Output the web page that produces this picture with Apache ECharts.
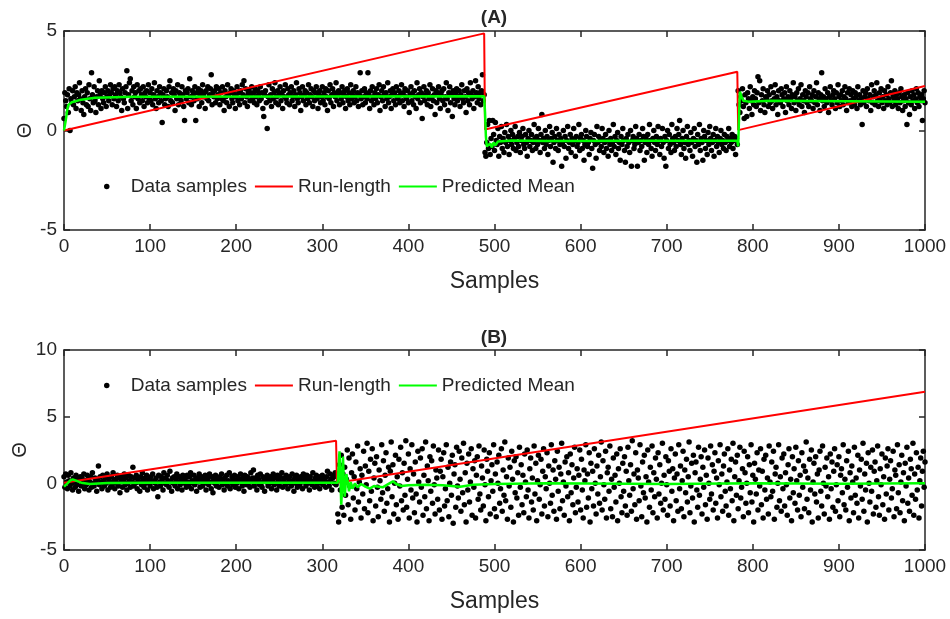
<!DOCTYPE html>
<html><head><meta charset="utf-8">
<script src="https://cdn.jsdelivr.net/npm/echarts@6/dist/echarts.min.js"></script>
<style>html,body{margin:0;padding:0;background:#fff}#c{width:950px;height:619px}</style>
</head><body><div id="c"></div>
<script>
// ---------- Panel (A) data samples ----------
const samplesA1 = [ // samples 0..488
0.6,1.9,1.5,1.2,1.8,0.9,2.1,0.0,1.6,1.4,2.0,1.3,1.7,2.2,1.1,1.9,1.5,1.8,2.4,1.6,
1.0,2.0,1.4,0.8,1.7,2.1,1.3,1.9,1.2,2.3,1.6,1.0,2.9,1.8,1.4,2.2,1.5,0.9,1.7,2.0,
1.3,2.5,1.8,1.1,2.0,1.6,1.4,1.9,2.2,1.2,1.7,2.0,1.5,1.8,2.3,1.9,1.3,2.1,1.6,2.2,
1.8,1.2,2.0,1.5,2.3,1.9,1.7,1.0,2.1,1.6,1.4,1.9,2.2,3.0,1.1,1.8,2.4,2.6,1.5,2.0,
1.3,2.2,1.7,1.9,1.1,2.3,1.6,2.0,1.4,2.1,1.8,1.5,2.2,1.2,1.9,1.7,2.0,1.4,2.3,1.6,
1.9,1.5,2.1,1.3,1.8,2.4,1.6,1.1,2.0,1.7,1.4,2.2,1.9,1.5,0.4,1.8,2.1,1.3,1.6,2.0,
1.7,1.2,2.2,2.5,1.5,1.9,1.4,2.1,1.8,1.0,2.0,1.6,2.3,1.3,1.9,1.7,1.5,2.2,1.8,1.2,
0.5,2.0,1.6,1.9,2.1,1.4,2.6,1.7,1.3,2.0,1.8,1.5,2.2,0.5,1.9,1.6,2.1,1.2,1.8,2.0,
1.4,2.3,1.7,1.9,1.1,2.0,1.6,2.2,1.5,1.8,2.1,2.8,1.3,1.9,1.7,2.0,1.4,2.2,1.6,1.8,
2.1,1.3,1.9,1.6,2.2,1.5,1.0,2.0,1.7,1.4,2.3,1.8,1.2,1.9,2.1,1.6,1.4,2.0,1.8,1.1,
1.7,2.2,1.5,1.9,1.3,2.0,1.6,2.3,1.8,2.5,1.4,2.1,1.7,1.2,1.9,2.0,1.5,1.8,2.2,1.6,
1.9,1.4,2.1,1.7,1.3,2.0,1.8,1.5,2.2,1.6,1.9,1.1,0.7,1.8,2.0,1.4,0.1,1.7,2.3,1.5,
1.8,1.2,2.1,1.6,1.9,2.4,1.4,1.7,2.0,1.3,1.8,2.2,1.5,1.9,1.1,2.0,1.7,2.3,1.6,1.4,
2.1,1.8,1.3,1.9,2.2,1.5,1.7,2.0,1.2,1.8,2.4,1.6,1.4,2.1,1.9,1.0,1.7,2.2,1.5,1.8,
2.0,1.3,1.9,1.6,2.3,1.4,1.8,2.1,1.7,1.2,2.0,1.5,1.9,2.2,1.6,1.1,1.8,2.0,1.4,1.7,
2.2,1.5,1.9,1.3,2.1,1.7,1.0,2.0,1.6,2.3,1.4,1.8,2.1,1.2,1.9,1.7,2.4,1.5,1.8,2.0,
1.3,1.9,1.6,2.2,1.4,1.8,2.0,1.1,1.7,2.1,1.5,1.9,1.3,2.3,1.6,1.8,2.0,1.4,1.7,2.2,
1.5,1.9,1.2,1.8,2.9,1.6,2.0,1.3,1.7,2.1,1.4,1.9,1.6,2.9,1.8,1.1,2.0,1.5,2.2,1.7,
1.3,1.9,1.6,2.1,1.4,1.8,2.3,1.0,1.7,2.0,1.5,2.2,1.8,1.2,1.9,1.6,2.4,1.4,1.7,2.0,
1.1,1.8,2.1,1.5,1.9,1.3,2.2,1.7,1.6,2.0,1.4,1.8,2.3,1.5,1.9,1.2,2.1,1.7,1.6,2.0,
1.4,0.9,1.8,2.2,1.5,1.9,1.3,2.0,1.7,1.1,2.4,1.6,1.8,2.1,1.4,1.9,0.6,1.7,2.2,1.5,
1.8,2.0,1.3,1.9,1.6,2.3,1.2,1.7,2.1,1.5,1.8,0.8,2.0,1.4,1.9,2.2,1.6,1.1,1.8,2.0,
1.5,2.1,1.3,1.7,2.4,1.6,1.0,1.9,2.2,1.4,1.8,0.7,2.0,1.6,1.3,1.9,2.1,1.5,1.7,2.0,
1.2,1.8,2.3,1.6,1.4,2.0,1.7,0.9,2.1,1.5,1.9,1.3,2.4,1.8,1.6,2.0,1.1,1.7,2.5,1.9,
1.4,2.2,1.6,1.9,1.3,2.0,2.8,1.5,1.8];
const samplesA2 = [ // samples 489..782
-1.1,-1.3,-0.6,0.3,-0.9,0.5,-1.2,-0.4,-0.8,0.5,-0.2,-1.0,0.4,-0.5,-0.7,0.1,-1.3,-0.3,-0.6,0.2,
-0.9,-0.4,-1.1,-0.1,-0.6,0.3,-0.8,-0.3,-1.2,-0.5,0.0,-0.7,-0.2,-0.9,-0.4,0.2,-1.0,-0.6,-0.3,-0.8,
-0.1,-1.1,-0.5,-0.3,0.1,-0.7,-0.9,-0.2,-0.6,-1.3,-0.4,0.0,-0.8,-0.5,-0.2,-1.0,-0.6,0.3,-0.4,-0.9,
-0.3,-0.7,0.1,-0.5,-1.1,-0.2,0.8,-0.6,-0.4,-0.9,0.0,-0.7,-0.3,-1.2,-0.5,0.2,-0.8,-0.4,-0.1,-1.6,
-0.6,-0.3,-0.9,0.1,-0.5,-1.0,-0.2,-0.7,-0.4,-1.8,-0.6,0.0,-0.8,-0.3,-1.4,-0.5,0.2,-0.9,-0.6,-0.2,
-1.1,-0.4,-0.7,0.1,-0.5,-1.3,-0.3,-0.8,-0.6,0.3,-1.0,-0.4,-0.2,-0.9,-0.5,-1.5,-0.7,0.0,-0.3,-0.8,
-0.6,-1.2,-0.4,-0.1,-0.9,-1.9,-0.5,-0.2,-0.7,-1.4,0.2,-0.6,-0.3,-1.0,-0.5,-0.8,0.1,-0.4,-1.1,-0.6,
-0.2,-0.9,-0.5,-1.3,0.0,-0.7,-0.4,-1.0,-0.6,0.3,-0.8,-0.3,-1.2,-0.5,-0.1,-0.9,-0.6,-1.5,-0.3,-0.7,
0.1,-0.5,-1.0,-1.6,-0.4,-0.8,-0.2,-0.6,-1.1,0.0,-1.8,-0.5,-0.3,-0.9,-0.7,0.2,-0.4,-1.8,-0.6,-0.2,
-1.0,-0.5,-0.8,0.1,-0.3,-1.5,-0.6,-0.4,-1.1,-0.2,-0.7,0.3,-0.5,-0.9,-1.3,-0.4,0.0,-0.6,-1.0,-0.3,
-0.7,0.2,-0.5,-1.2,-0.4,-0.8,0.1,-0.6,-1.4,-0.3,-1.8,-0.5,0.0,-0.9,-0.2,-0.7,-1.1,0.3,-0.4,-0.6,
-1.0,-0.3,-0.8,0.1,-0.5,-0.2,0.5,-0.7,-1.2,-0.4,0.0,-0.9,-0.6,-1.4,-0.3,0.2,-0.7,-0.5,-1.0,-0.1,
-0.6,-1.3,-0.4,0.1,-0.8,-0.5,-1.6,-0.2,-0.7,0.3,-1.0,-0.4,-0.6,-1.5,0.0,-0.3,-0.9,-0.5,-1.2,-0.1,
-0.7,0.2,-0.4,-1.0,-0.6,-0.2,-1.3,-0.5,0.1,-0.8,-0.3,-0.6,-1.1,-0.4,0.0,-0.7,-0.5,-0.9,-0.2,-0.6,
-1.0,-0.3,-0.5,0.1,-0.8,-0.4,-0.6,-0.2,-0.9,-0.5,-0.3,-1.2,-0.4,-0.7];
const samplesA3 = [ // samples 783..1000
2.0,1.3,0.9,1.7,1.5,2.1,1.2,0.6,1.8,1.4,0.7,1.9,1.6,1.1,2.2,1.5,0.8,1.7,1.3,2.0,
1.6,1.2,1.9,2.7,1.4,2.5,1.0,1.8,1.5,2.1,1.3,0.9,1.7,1.6,2.0,1.2,1.8,1.4,2.2,1.5,
1.1,1.9,1.6,2.3,1.3,1.7,0.8,2.0,1.5,1.4,2.1,1.8,1.2,1.6,1.9,0.9,2.2,1.5,1.7,1.3,
2.0,1.6,1.1,1.8,2.4,1.4,1.7,1.0,1.9,1.5,2.1,1.3,1.6,2.3,1.2,1.8,1.5,0.9,2.0,1.7,
1.4,1.9,1.2,2.2,1.6,1.5,1.8,1.1,2.0,1.4,1.7,2.4,1.3,1.9,1.6,1.0,1.8,2.9,1.5,1.7,
1.2,2.1,1.6,1.4,1.9,0.9,1.7,2.2,1.5,1.3,1.8,2.0,1.6,1.1,1.9,1.4,2.3,1.7,1.2,1.8,
1.5,2.0,1.3,1.7,2.2,1.6,1.0,1.9,1.4,2.1,1.5,1.8,1.2,2.0,1.6,1.3,1.9,1.7,1.1,2.2,
1.5,1.8,1.3,1.6,0.3,2.0,1.4,1.7,1.9,1.2,2.1,1.6,1.5,1.8,1.0,2.3,1.4,1.7,2.0,1.3,
1.8,2.4,1.5,1.2,1.9,1.6,2.1,1.4,1.7,1.1,2.0,1.5,1.8,1.3,2.2,1.6,1.4,1.9,2.5,1.2,
1.7,1.5,2.0,1.3,1.8,1.6,1.1,1.9,1.4,2.1,1.7,1.0,1.5,1.8,1.2,1.6,0.3,1.9,1.4,0.8,
1.7,1.3,2.0,1.5,1.8,1.1,1.6,2.1,1.4,1.9,1.2,1.7,1.5,1.8,0.5,1.6,2.0,1.4];
// ---------- Panel (B) data samples ----------
const samplesB1 = [ // samples 0..317
0.5,-0.3,0.7,0.1,-0.4,0.6,0.2,-0.2,0.8,0.0,-0.5,0.4,0.1,-0.3,0.6,-0.1,0.3,-0.6,0.2,0.5,
-0.2,0.4,0.0,0.7,-0.4,0.2,-0.1,0.6,0.3,-0.5,0.1,0.5,-0.3,0.8,0.0,-0.2,0.4,0.2,-0.6,0.3,
1.3,-0.1,0.5,0.1,-0.4,0.6,0.2,-0.2,0.4,0.0,0.7,-0.5,0.3,0.1,-0.3,0.5,-0.1,0.8,0.2,-0.4,
0.3,0.0,0.6,-0.2,0.4,-0.7,0.1,0.5,-0.3,0.2,0.7,-0.1,0.4,-0.5,0.0,0.6,0.2,-0.3,0.5,0.1,
1.2,-0.2,0.4,0.0,0.6,-0.4,0.3,0.1,-0.6,0.5,-0.1,0.8,0.2,-0.3,0.4,0.0,0.6,-0.5,0.1,0.3,
-0.2,0.5,0.1,0.7,-0.4,0.2,0.0,0.4,-0.3,-1.0,0.6,0.1,-0.2,0.5,0.3,-0.5,0.8,0.0,0.4,-0.1,
0.6,0.2,-0.3,0.9,0.1,-0.6,0.4,0.0,0.5,-0.2,0.3,0.7,-0.4,0.1,0.5,-0.1,0.2,-0.5,0.6,0.3,
0.0,0.4,-0.3,0.6,0.1,-0.2,0.5,0.8,-0.4,0.2,0.0,0.6,-0.1,0.3,-0.6,0.4,0.1,0.7,-0.3,0.2,
0.5,-0.2,0.3,0.0,0.6,-0.5,0.2,0.4,-0.1,0.7,0.1,-0.4,0.5,-0.7,0.3,0.0,0.6,-0.2,0.4,0.1,
-0.3,0.5,0.2,0.7,-0.1,0.3,-0.5,0.4,0.0,0.6,-0.2,0.2,0.8,-0.4,0.1,0.5,-0.1,0.3,0.6,-0.3,
0.2,0.0,0.5,-0.4,0.3,0.7,0.1,-0.2,0.4,-0.6,0.6,0.2,-0.1,0.5,0.0,0.3,-0.3,0.8,0.1,0.4,
1.0,-0.2,0.4,0.1,-0.5,0.6,0.3,-0.1,0.7,0.0,-0.3,0.5,0.2,-0.6,0.4,0.1,0.6,-0.2,0.3,0.0,
0.5,-0.4,0.2,0.7,-0.1,0.4,0.0,-0.5,0.6,0.3,-0.2,0.5,0.1,0.8,-0.3,0.2,0.4,-0.1,0.6,0.0,
-0.4,0.3,0.5,0.1,-0.2,0.7,0.2,-0.6,0.4,0.0,0.6,-0.3,0.3,0.1,-0.1,0.5,0.2,-0.4,0.7,0.1,
0.4,-0.2,0.6,0.0,0.3,-0.5,0.5,0.2,-0.1,0.8,0.1,-0.3,0.4,0.6,-0.2,0.2,0.5,-0.4,0.3,0.0,
0.6,-0.1,0.4,0.2,-0.3,0.5,0.9,0.1,-0.2,0.7,0.3,-0.5,0.4,0.6,0.0,0.8,-0.1,0.5];
const samplesB2 = [ // samples 318..1000
-2.3,-2.9,1.4,-0.5,2.1,-1.8,0.7,-2.4,1.2,-0.9,0.3,2.5,-1.6,1.9,-0.2,-2.7,0.8,2.2,-1.1,0.5,
-2.0,1.6,-0.4,2.8,-1.4,0.1,1.1,-2.6,0.6,-0.8,2.4,-1.9,1.3,-0.1,3.0,-2.2,0.9,-1.3,1.8,-0.6,
2.6,-2.8,0.4,1.5,-1.7,2.0,-0.3,-2.5,1.0,0.2,-1.2,2.9,-0.7,1.7,-2.1,0.6,2.3,-1.5,-0.4,1.2,
-2.9,0.9,3.1,-1.0,1.4,-2.3,0.0,2.1,-1.6,0.5,-2.7,1.8,-0.2,2.7,-1.3,0.8,-2.0,1.5,-0.9,3.2,
-1.8,0.3,2.2,-2.6,1.1,-0.5,2.9,-1.1,0.7,-2.2,1.6,-0.8,-2.9,2.4,0.1,-1.4,1.9,-0.3,2.6,-2.4,
0.6,-1.0,3.1,-1.9,1.3,0.2,-2.8,2.0,-0.6,1.7,-1.5,2.8,-0.1,-2.3,1.0,0.4,-1.2,2.5,-2.0,0.9,
1.8,-2.7,0.5,2.3,-1.7,-0.4,2.9,-1.3,1.2,-2.5,0.0,1.6,-0.9,2.1,-3.0,0.7,1.4,-1.8,2.7,-0.2,
-1.1,2.4,0.3,-2.1,1.9,-0.7,3.0,-1.6,0.8,-2.9,1.5,-0.5,2.2,-1.4,0.1,2.6,-2.4,1.1,-0.3,1.7,
-2.6,0.6,2.0,-1.2,2.8,-0.8,-2.0,1.3,0.4,-1.7,2.5,-0.1,-2.8,1.8,0.9,-1.0,2.3,-2.3,0.2,1.4,
-0.6,2.9,-1.9,0.7,-2.5,1.6,0.0,2.1,-1.5,-0.4,2.6,-2.1,1.0,-0.9,3.1,-1.3,0.5,-2.7,1.9,-0.2,
1.2,-1.8,2.4,0.3,-2.9,1.7,-0.7,2.0,-1.1,0.8,-2.4,2.7,-0.3,1.4,-1.6,0.6,-2.2,2.2,0.1,-1.0,
2.5,-0.5,-2.6,1.1,1.9,-1.4,0.4,-2.0,2.8,-0.8,1.5,-2.8,0.2,2.1,-1.2,-0.1,1.8,-2.3,0.9,2.6,
-1.7,0.5,-0.4,2.3,-2.5,1.3,0.0,-1.5,2.9,-0.9,1.0,-2.1,1.7,0.3,-2.7,2.4,-0.6,1.2,-1.9,0.7,
3.0,-1.3,0.1,-2.4,1.6,-0.2,2.0,-1.0,0.8,-2.8,2.2,-0.7,1.4,-1.6,0.4,2.7,-2.2,-0.3,1.1,-1.4,
0.6,2.5,-2.0,1.8,-0.5,-2.6,1.0,0.2,2.9,-1.8,0.7,-1.1,2.3,-2.9,1.5,-0.4,0.9,-1.7,2.6,0.0,
-2.3,1.3,-0.8,2.1,-1.5,0.5,3.1,-2.0,1.7,-0.1,-1.2,2.4,-2.6,0.8,1.2,-0.6,2.8,-1.9,0.3,-2.5,
1.9,-0.3,0.6,-1.4,2.2,-2.8,1.1,0.0,2.6,-1.0,-2.2,1.5,-0.6,2.0,-1.7,0.9,-2.4,2.7,0.2,-0.9,
1.4,-2.1,3.2,-0.4,0.7,-1.6,2.3,-2.7,1.0,0.4,-1.3,2.9,-0.2,-2.5,1.6,-0.7,2.1,-1.1,0.5,-2.9,
2.5,0.1,-1.8,1.2,-0.5,2.8,-2.2,0.8,-1.0,1.9,0.3,-2.6,2.3,-0.8,1.4,-1.5,0.0,3.0,-2.0,0.6,
-1.2,2.0,-0.1,-2.4,1.7,0.9,-1.7,2.6,-0.6,1.1,-2.8,0.4,2.2,-1.3,0.7,-2.1,2.9,-0.4,1.3,-1.9,
0.2,2.4,-2.5,1.0,-0.7,1.8,-1.4,0.5,3.1,-2.2,-0.2,1.5,-1.1,2.1,-2.9,0.8,1.6,-0.5,-1.8,2.7,
-0.9,0.3,2.0,-2.3,1.2,-0.3,2.5,-1.6,0.6,-2.7,1.9,0.0,-1.2,2.8,-0.8,1.4,-2.0,0.9,2.3,-1.5,
0.4,-2.6,1.7,-0.1,2.9,-1.0,0.7,-2.1,1.3,2.2,-0.6,-1.7,0.1,2.6,-2.4,1.0,-0.4,1.8,-1.3,3.0,
-2.8,0.5,1.6,-0.9,2.1,-1.9,0.2,2.7,-1.1,-0.3,1.1,-2.5,2.4,0.8,-1.5,0.0,2.0,-2.2,1.4,-0.7,
2.9,-1.4,0.6,-2.9,1.5,0.3,-0.8,2.3,-2.0,1.0,-0.2,2.6,-1.6,0.9,-2.6,1.8,-0.5,2.1,-1.2,0.4,
-2.3,2.8,0.1,-1.0,1.6,-0.6,2.4,-2.7,0.7,1.2,-1.8,0.0,2.9,-1.3,0.5,-2.1,1.9,-0.4,2.2,-1.7,
0.8,-0.1,-2.4,1.4,2.6,-1.1,0.3,-2.8,2.0,-0.7,1.1,-1.5,2.7,0.2,-2.0,1.7,-0.9,0.6,-2.5,2.3,
-0.3,1.3,-1.9,0.9,3.1,-1.2,0.4,-2.2,1.8,-0.5,2.5,-2.9,0.1,1.5,-0.8,2.0,-1.4,0.7,-2.6,1.0,
2.4,-0.6,-1.7,2.8,0.0,-2.3,1.2,-0.2,1.9,-1.0,0.5,-2.7,2.2,-0.4,1.6,-1.8,0.9,2.6,-2.1,-0.1,
1.4,-1.3,2.0,-2.5,0.6,1.1,-0.7,2.9,-1.6,0.3,-2.0,1.7,-0.3,2.4,-2.8,0.8,-1.1,1.3,0.1,-2.2,
2.7,-0.9,0.4,-1.5,2.1,-2.6,1.0,-0.2,1.8,-1.2,3.0,-2.1,0.7,-0.5,1.5,-2.9,2.3,0.0,-1.4,1.2,
-0.6,2.5,-2.3,0.9,1.6,-1.8,0.2,2.8,-1.0,-2.4,1.1,-0.1,2.2,-1.6,0.5,-2.7,1.9,-0.8,1.3,2.6,
-2.0,0.3,1.7,-1.1,-0.4,2.4,-2.5,1.0,0.6,-1.9,2.9,-0.7,1.4,-2.2,0.1,2.1,-1.3,0.8,-2.8,1.5,
-0.2,2.7,-1.5,0.4,-2.1,1.8,1.1,-0.9,3.0,-2.4,0.7,-1.2,2.3,-0.5,1.2,-2.6,0.2,1.9,-1.7,0.9,
2.4,-0.3,1.6];
// ---------- lines: [sample, value] ----------
const runLengthA = [[0,0],[488,4.88],[489,0.05],[782,2.95],[783,0.02],[1000,2.24]];
const meanA = [[0,0],[2,0.5],[4,1.1],[5,1.28],[9,1.42],[20,1.55],[36,1.65],[80,1.7],[488,1.72],
  [489,0.9],[490,-0.3],[491,-0.8],[493,-0.9],[495,-0.65],[497,-0.85],[499,-0.6],[501,-0.75],[504,-0.55],
  [520,-0.5],[560,-0.53],[782,-0.5],[783,-0.8],[784,0.6],[785,1.95],[787,1.7],[789,1.5],[795,1.45],
  [820,1.5],[1000,1.45]];
const runLengthB = [[0,0.05],[316,3.2],[317,0.05],[1000,6.87]];
const meanB = [[0,-0.25],[2,-0.4],[4,0.0],[7,0.2],[10,0.3],[14,0.2],[20,0.05],[30,-0.05],[50,0.02],
  [100,0.05],[318,0.05],[319,0.1],[320,2.4],[321,0.5],[322,-1.6],[323,-0.3],[324,2.0],[325,0.2],
  [326,-1.0],[327,-0.2],[328,0.7],[330,-0.1],[331,-0.6],[333,0.1],[335,-0.4],[338,0.0],[341,-0.3],
  [345,-0.05],[350,-0.25],[355,-0.4],[360,-0.2],[370,-0.3],[378,0.0],[382,0.15],[386,-0.05],
  [392,-0.2],[400,-0.15],[420,-0.1],[440,-0.15],[460,-0.25],[475,-0.1],[500,-0.05],[560,0.0],
  [700,-0.05],[800,0.0],[900,-0.03],[1000,0.0]];
const xTicks = {min:0, max:1000, interval:100};
const yTicksA = {min:-5, max:5, interval:5};
const yTicksB = {min:-5, max:10, interval:5};
const titles = ['(A)','(B)'];
const names = ['Data samples','Run-length','Predicted Mean'];

// ---------- build ----------
const FONT = '"Liberation Sans", Arial, sans-serif';
const AX = '#262626';
const dataA = samplesA1.concat(samplesA2, samplesA3).map((v,i)=>[i,v]);
const dataB = samplesB1.concat(samplesB2).map((v,i)=>[i,v]);
const LINE_ICON = 'path://M0,0L100,0L100,5.5L0,5.5Z';
const DOT_ICON = 'path://M0,5A5,5 0 1 0 10,5A5,5 0 1 0 0,5Z';

function xAxis(g, pos) {
  const main = pos === 'bottom';
  return Object.assign({
    type:'value', gridIndex:g, position:pos,
    axisLine:{show:true, onZero:false, lineStyle:{color:AX, width:1.5}},
    axisTick:{show:true, inside:true, length:6, lineStyle:{color:AX, width:1.5}},
    axisLabel:{show:main, margin:7, color:AX, fontSize:19, fontFamily:FONT, formatter:v=>String(v)},
    splitLine:{show:false},
    name: main ? 'Samples' : '', nameLocation:'middle', nameGap:40,
    nameTextStyle:{fontSize:23, color:AX, fontFamily:FONT}
  }, xTicks);
}
function yAxis(g, pos, t, gap) {
  const main = pos === 'left';
  return Object.assign({
    type:'value', gridIndex:g, position:pos,
    axisLine:{show:true, onZero:false, lineStyle:{color:AX, width:1.5}},
    axisTick:{show:true, inside:true, length:6, lineStyle:{color:AX, width:1.5}},
    axisLabel:{show:main, margin:7, color:AX, fontSize:19, fontFamily:FONT, formatter:v=>String(v)},
    splitLine:{show:false},
    name: main ? 'Θ' : '', nameLocation:'middle', nameGap:gap, nameMoveOverlap:false,
    nameTextStyle:{fontSize:20, color:AX, fontFamily:FONT}
  }, t);
}
function legend(top) {
  return {
    data:[{name:names[0], icon:DOT_ICON}, {name:names[1], icon:LINE_ICON}, {name:names[2], icon:LINE_ICON}],
    left:104, top:top, padding:0, itemWidth:38, itemHeight:5.5, itemGap:8, symbolKeepAspect:true,
    selectedMode:false, textStyle:{fontSize:19, color:AX, fontFamily:FONT}};
}
function seriesFor(g, scatter, red, green) {
  return [
    {name:names[0], type:'scatter', xAxisIndex:2*g, yAxisIndex:2*g, data:scatter,
     symbolSize:5.5, itemStyle:{color:'#000', opacity:1}, silent:true, z:2},
    {name:names[1], type:'line', xAxisIndex:2*g, yAxisIndex:2*g, data:red, symbol:'none',
     lineStyle:{color:'#ff0000', width:2}, itemStyle:{color:'#ff0000'}, silent:true, z:3},
    {name:names[2], type:'line', xAxisIndex:2*g, yAxisIndex:2*g, data:green, symbol:'none',
     lineStyle:{color:'#00ff00', width:2.5}, itemStyle:{color:'#00ff00'}, silent:true, z:4}
  ];
}

const chart = echarts.init(document.getElementById('c'), null, {renderer:'canvas'});
chart.setOption({
  backgroundColor:'#fff',
  animation:false,
  title:[
    {text:titles[0], left:494, top:8, textAlign:'center', padding:0,
     textStyle:{fontSize:19, fontWeight:'bold', color:AX, fontFamily:FONT}},
    {text:titles[1], left:494, top:328, textAlign:'center', padding:0,
     textStyle:{fontSize:19, fontWeight:'bold', color:AX, fontFamily:FONT}}
  ],
  legend:[legend(177), legend(376)],
  grid:[
    {left:64, right:25, top:31, height:199, containLabel:false, outerBoundsMode:'none'},
    {left:64, right:25, top:350, height:200, containLabel:false, outerBoundsMode:'none'}
  ],
  xAxis:[xAxis(0,'bottom'), xAxis(0,'top'), xAxis(1,'bottom'), xAxis(1,'top')],
  yAxis:[yAxis(0,'left',yTicksA,29), yAxis(0,'right',yTicksA,29), yAxis(1,'left',yTicksB,34), yAxis(1,'right',yTicksB,34)],
  series: seriesFor(0, dataA, runLengthA, meanA).concat(seriesFor(1, dataB, runLengthB, meanB))
});
</script></body></html>
